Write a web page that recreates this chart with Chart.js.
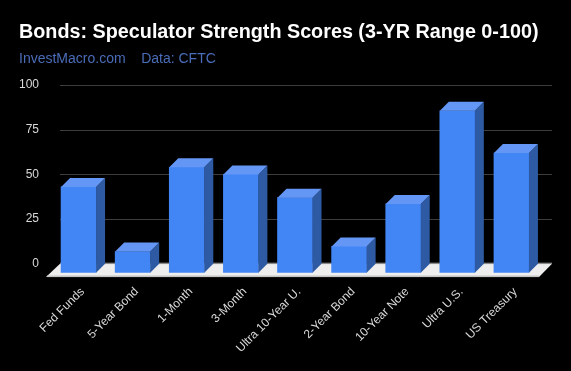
<!DOCTYPE html>
<html>
<head>
<meta charset="utf-8">
<style>html,body{margin:0;padding:0;background:#000}#w{position:relative;width:571px;height:371px}</style>
<script src="https://cdn.jsdelivr.net/npm/chart.js@4"></script>
</head>
<body>
<div id="w"><canvas id="c" width="571" height="371"></canvas></div>
<script>
const categories = ["Fed Funds","5-Year Bond","1-Month","3-Month","Ultra 10-Year U.","2-Year Bond","10-Year Note","Ultra U.S.","US Treasury"];
const scores = [48,11.8,59,55,42,14.7,38.5,90.6,67];
const axisTicks = [0,25,50,75,100];
const titleText = "Bonds: Speculator Strength Scores (3-YR Range 0-100)";
const subtitleText = "InvestMacro.com    Data: CFTC";

const DEPTH_UNITS = 5.05, DX = 9, DY = 9;
const FRONT = "#4285f4", TOP = "#6496f6", SIDE = "#2d5aa3";

const pseudo3d = {
  id: "pseudo3d",
  beforeDatasetsDraw(chart) {
    const {ctx, scales:{y, y2}} = chart;
    const gl = 60, gr = 552;
    ctx.save();
    ctx.strokeStyle = "#3d3d3d"; ctx.lineWidth = 1;
    axisTicks.forEach(t => {
      if (t === 0) return;
      const py = Math.round(y2.getPixelForValue(t)) + .5;
      ctx.beginPath(); ctx.moveTo(gl, py); ctx.lineTo(gr, py); ctx.stroke();
    });
    const back = y2.getPixelForValue(0), front = y.getPixelForValue(0);
    ctx.fillStyle = "#eeeeee";
    ctx.beginPath();
    ctx.moveTo(gl, back); ctx.lineTo(gr, back); ctx.lineTo(539, front + 4.3); ctx.lineTo(46, front + 4.3);
    ctx.closePath(); ctx.fill();
    ctx.fillStyle = "#c4c4c4";
    ctx.fillRect(47, front + 2.8, 492, 1.6);
    ctx.fillStyle = "#8a8a8a";
    ctx.fillRect(gl, back - 1, gr - gl, 1.4);
    ctx.restore();
  },
  afterDatasetsDraw(chart) {
    const {ctx} = chart;
    ctx.save();
    chart.getDatasetMeta(0).data.forEach(b => {
      const p = b.getProps(["x","y","base","width"], true);
      const l = p.x - p.width/2, r = p.x + p.width/2, t = p.y, bt = p.base;
      ctx.fillStyle = SIDE;
      ctx.beginPath();
      ctx.moveTo(r, t); ctx.lineTo(r+DX, t-DY); ctx.lineTo(r+DX, bt-DY); ctx.lineTo(r, bt);
      ctx.closePath(); ctx.fill();
      ctx.fillStyle = TOP;
      ctx.beginPath();
      ctx.moveTo(l, t); ctx.lineTo(l+DX, t-DY); ctx.lineTo(r+DX, t-DY); ctx.lineTo(r, t);
      ctx.closePath(); ctx.fill();
    });
    ctx.restore();
  }
};

new Chart(document.getElementById("c"), {
  type: "bar",
  data: {
    labels: categories,
    datasets: [{data: scores, backgroundColor: FRONT, borderWidth: 0, barThickness: 35, yAxisID: "y"}]
  },
  plugins: [pseudo3d],
  options: {
    responsive: false,
    animation: false,
    layout: {padding: {left: 19, right: 32.5, top: 0, bottom: 0}},
    plugins: {
      legend: {display: false},
      tooltip: {enabled: false},
      title: {display: true, text: titleText, align: "start", color: "#ffffff",
        font: {family: "'Liberation Sans'", size: 20, weight: "bold", lineHeight: 1.2},
        padding: {top: 20, bottom: 7}},
      subtitle: {display: true, text: subtitleText, align: "start", color: "#4a6cb8",
        font: {family: "'Liberation Sans'", size: 14, lineHeight: 1.2},
        padding: {top: 0, bottom: 17.2}}
    },
    scales: {
      x: {
        grid: {display: false, drawTicks: false},
        border: {display: false},
        afterFit(s) { s.height = 98.3; },
        ticks: {color: "#d9d9d9", font: {family: "'Liberation Sans'", size: 12},
          autoSkip: false, minRotation: 45, maxRotation: 45, padding: 12, labelOffset: 4}
      },
      y: {display: false, min: 0, max: 100 + DEPTH_UNITS},
      y2: {
        position: "left",
        min: -DEPTH_UNITS, max: 100,
        afterBuildTicks(s) { s.ticks = axisTicks.map(v => ({value: v})); },
        afterFit(s) { s.width = 32.5; },
        grid: {display: false, drawTicks: false},
        border: {display: false},
        ticks: {color: "#d9d9d9", font: {family: "'Liberation Sans'", size: 12}, padding: 12.5}
      }
    }
  }
});
</script>
</body>
</html>
